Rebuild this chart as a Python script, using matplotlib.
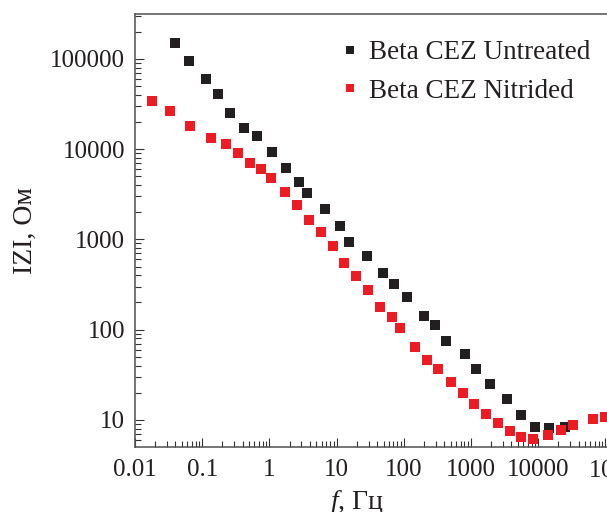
import numpy as np
from matplotlib import pyplot as plt, ticker

plt.rcParams['font.family'] = ['Liberation Serif', 'DejaVu Serif']
plt.rcParams['mathtext.fontset'] = 'custom'
plt.rcParams['mathtext.rm'] = 'Liberation Serif'
plt.rcParams['mathtext.it'] = 'Liberation Serif:italic'

# impedance modulus vs frequency
f_untreated = [0.040, 0.0645, 0.112, 0.169, 0.255, 0.413, 0.646, 1.08, 1.75, 2.74,
               3.6, 6.69, 11.2, 15.3, 28.3, 49.1, 71.6, 112, 201, 293,
               428, 822, 1200, 1940, 3480, 5640, 8810, 14300, 24700]
z_untreated = [149000, 93600, 59200, 40400, 24900, 17000, 13900, 9220, 6140, 4300,
               3270, 2160, 1410, 931, 652, 426, 319, 230, 141, 112,
               75, 53.7, 36.7, 25, 17, 11.4, 8.37, 8.2, 8.4]

f_nitrided = [0.0177, 0.033, 0.0668, 0.133, 0.223, 0.337, 0.508, 0.751, 1.04, 1.69,
              2.55, 3.86, 5.83, 8.81, 12.9, 19.4, 29.3, 44.3, 66.8, 88,
              148, 223, 325, 508, 752, 1120, 1690, 2550, 3860, 5640,
              8510, 13800, 21500, 32500, 64600, 97700]
z_nitrided = [34000, 26200, 17900, 13300, 11300, 8990, 6970, 5980, 4760, 3330,
              2390, 1630, 1200, 841, 550, 392, 274, 178, 138, 104,
              64.3, 46.1, 36.7, 26.3, 19.9, 15.0, 11.6, 9.26, 7.62, 6.49,
              6.21, 6.82, 7.74, 8.81, 10.3, 10.9]

labels = ['Beta CEZ Untreated', 'Beta CEZ Nitrided']
colours = ['#231f20', '#ed1c24']

fig = plt.figure(figsize=(6.07, 5.12), dpi=100)
W, H = 607, 512
# axes runs past the right edge of the figure
ax = fig.add_axes([135 / W, (H - 446.7) / H, 8 * 67.2 / W, (446.7 - 14) / H])

ax.plot(f_untreated, z_untreated, ls='none', marker='s', ms=7.3, mew=0,
        color=colours[0], label=labels[0])
ax.plot(f_nitrided, z_nitrided, ls='none', marker='s', ms=7.3, mew=0,
        color=colours[1], label=labels[1])

ax.set_xscale('log')
ax.set_yscale('log')
ax.set_xlim(0.01, 1e6)
ax.set_ylim(5.06, 3.13e5)


def xfmt(v, pos):
    if v >= 1e5 - 1:
        return r'$\mathregular{10^{%d}}$' % round(np.log10(v))
    d = max(0, -int(np.floor(np.log10(v) + 1e-9)))
    return f'{v:.{d}f}'


def yfmt(v, pos):
    d = max(0, -int(np.floor(np.log10(v) + 1e-9)))
    return f'{v:.{d}f}'


ax.xaxis.set_major_locator(ticker.LogLocator(base=10, numticks=20))
ax.xaxis.set_major_formatter(ticker.FuncFormatter(xfmt))
ax.yaxis.set_major_locator(ticker.LogLocator(base=10, numticks=20))
ax.yaxis.set_major_formatter(ticker.FuncFormatter(yfmt))
ax.xaxis.set_minor_locator(ticker.LogLocator(base=10, subs=np.arange(2, 10), numticks=20))
ax.yaxis.set_minor_locator(ticker.LogLocator(base=10, subs=np.arange(2, 10), numticks=20))
ax.xaxis.set_minor_formatter(ticker.NullFormatter())
ax.yaxis.set_minor_formatter(ticker.NullFormatter())

ax.tick_params(which='both', direction='in', top=False, right=False,
               color='#333333', width=0.8, labelsize=18, labelcolor='#231f20')
ax.tick_params(which='major', length=6.5)
ax.tick_params(which='minor', length=4)
ax.tick_params(axis='y', pad=7)
ax.tick_params(axis='x', pad=9)
for s in ax.spines.values():
    s.set_color('#505050')
    s.set_linewidth(1.1)

ax.set_xlabel('$f$, Гц', fontsize=20, color='#231f20')
ax.xaxis.set_label_coords((357 - 135) / (8 * 67.2), -0.095)
ax.set_ylabel('IZI, Ом', fontsize=20, color='#231f20')
ax.yaxis.set_label_coords((38 - 135) / (8 * 67.2), 0.5)

ax.legend(loc='upper left', bbox_to_anchor=(341.5 / W, 1 - 40 / H),
          bbox_transform=fig.transFigure, frameon=False, fontsize=19.5,
          markerscale=0.7, handlelength=0.6, handletextpad=0.4,
          labelspacing=0.5, borderpad=0, borderaxespad=0,
          labelcolor='#231f20')

fig.savefig('out.png', dpi=100)
